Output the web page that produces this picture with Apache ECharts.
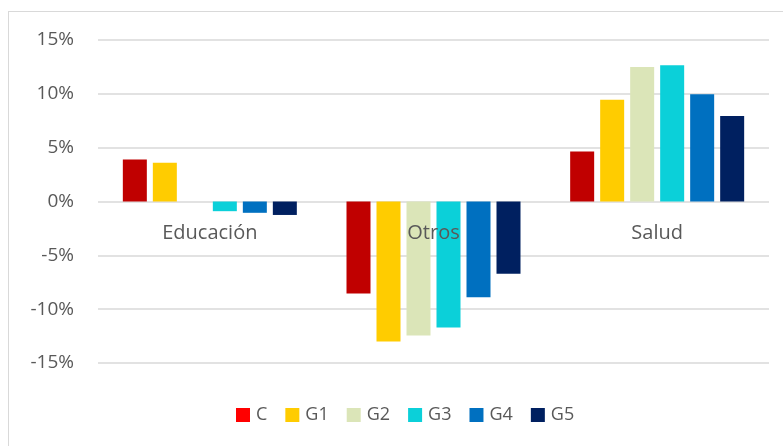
<!DOCTYPE html>
<html>
<head>
<meta charset="utf-8">
<script src="https://cdn.jsdelivr.net/npm/echarts@6/dist/echarts.min.js"></script>
<style>
html,body{margin:0;padding:0;background:#fff;}
#frame{position:absolute;left:8px;top:11px;width:800px;height:460px;border:1px solid #d9d9d9;box-sizing:border-box;}
#chart{position:absolute;left:0;top:0;width:783px;height:446px;}
</style>
</head>
<body>
<div id="frame"></div>
<div id="chart"></div>
<script>
const categories = ['Educación', 'Otros', 'Salud'];
const seriesNames = ['C', 'G1', 'G2', 'G3', 'G4', 'G5'];
const valuesC  = [3.9, -8.55, 4.65];
const valuesG1 = [3.6, -13.0, 9.45];
const valuesG2 = [0, -12.45, 12.5];
const valuesG3 = [-0.9, -11.7, 12.65];
const valuesG4 = [-1.05, -8.9, 9.97];
const valuesG5 = [-1.25, -6.7, 7.95];
const yTicks = [-15, -10, -5, 0, 5, 10, 15];

const allValues = [valuesC, valuesG1, valuesG2, valuesG3, valuesG4, valuesG5];
const barColors = ['#C00000', '#FFCC00', '#DBE5B8', '#0BD0D9', '#0070C0', '#002060'];
const legendColors = ['#FF0000', '#FFCC00', '#DBE5B8', '#0BD0D9', '#0070C0', '#002060'];
const font = "'Open Sans', 'Liberation Sans', sans-serif";

const gridTop = 40, gridBottom = 83, chartH = 446;
const yMin = yTicks[0], yMax = yTicks[yTicks.length - 1];
const gridH = chartH - gridTop - gridBottom;
// move the category axis up to the zero line
const zeroOffset = -gridH * (0 - yMin) / (yMax - yMin);

const chart = echarts.init(document.getElementById('chart'), null, {renderer: 'canvas'});
chart.setOption({
  animation: false,
  backgroundColor: 'transparent',
  grid: {left: 98, right: 14, top: gridTop, bottom: gridBottom, containLabel: false},
  legend: {
    left: 236, top: 406, padding: 0,
    icon: 'rect', itemWidth: 14, itemHeight: 14, itemGap: 18,
    textStyle: {fontFamily: font, fontSize: 18, color: '#595959', padding: [0, 0, 0, 1]},
    data: seriesNames.map((n, i) => ({name: n, itemStyle: {color: legendColors[i]}}))
  },
  xAxis: {
    type: 'category', data: categories, z: 5,
    offset: zeroOffset,
    axisLine: {show: false, onZero: false}, axisTick: {show: false},
    axisLabel: {fontFamily: font, fontSize: 20, color: '#595959', margin: 22}
  },
  yAxis: {
    type: 'value', min: yMin, max: yMax, interval: 5,
    axisLine: {show: false}, axisTick: {show: false},
    axisLabel: {fontFamily: font, fontSize: 19, color: '#595959', margin: 24, formatter: v => v + '%'},
    splitLine: {lineStyle: {color: '#d9d9d9', width: 1.5}}
  },
  series: seriesNames.map((n, i) => ({
    name: n, type: 'bar', data: allValues[i],
    barWidth: 24, barGap: '25%',
    itemStyle: {color: barColors[i]}
  }))
});
</script>
</body>
</html>
